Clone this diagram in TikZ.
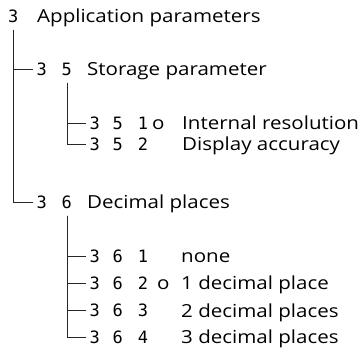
\documentclass[tikz,border=0pt]{standalone}
\usepackage{fontspec}
\setmainfont{Open Sans}[FakeStretch=1.14]
\newfontfamily\segfont{DejaVu Sans Mono}
\tikzset{
  seg/.style={font=\segfont\fontsize{17}{17}\selectfont, inner sep=0pt, anchor=west},
  txt/.style={font=\fontsize{18}{20}\selectfont, inner sep=0pt, anchor=base west},
  tree/.style={line width=0.8pt, black!85, shorten <=7pt, shorten >=3.5pt},
}
\begin{document}
\begin{tikzpicture}[x=1pt, y=-1pt]
    \useasboundingbox (0,0) rectangle (362,350);

    % Parametr 3
    \node[seg] (c3) at (8,16) {3};
    \node[txt] (t3) at (37,23) {Application parameters};

    % Grupa 3 5
    \node[seg] (c35) at (36.5,69) {3\hspace{14.8pt}5};
    \node[txt] (t35) at (87,76) {Storage parameter};
    \node[seg] (c351) at (89.5,123) {3\hspace{12.8pt}5\hspace{14.8pt}1};
    \node[txt] (o351) at (152,130) {o};
    \node[txt] (t351) at (182,130) {Internal resolution};
    \node[seg] (c352) at (89.5,144) {3\hspace{12.8pt}5\hspace{14.8pt}2};
    \node[txt] (t352) at (182,151) {Display accuracy};

    % Grupa 3 6
    \node[seg] (c36) at (36.5,202) {3\hspace{14.8pt}6};
    \node[txt] (t36) at (87,209) {Decimal places};
    \node[seg] (c361) at (89.5,256) {3\hspace{12.8pt}6\hspace{14.8pt}1};
    \node[txt] (t361) at (181,263) {none};
    \node[seg] (c362) at (89.5,283) {3\hspace{12.8pt}6\hspace{14.8pt}2};
    \node[txt] (o362) at (157,290) {o};
    \node[txt] (t362) at (181,290) {1 decimal place};
    \node[seg] (c363) at (89.5,310) {3\hspace{12.8pt}6\hspace{14.8pt}3};
    \node[txt] (t363) at (181,317) {2 decimal places};
    \node[seg] (c364) at (89.5,337) {3\hspace{12.8pt}6\hspace{14.8pt}4};
    \node[txt] (t364) at (181,344) {3 decimal places};

    % Drzewo
    \draw[tree] (c3.south) |- (c35.west);
    \draw[tree] (c3.south) |- (c36.west);
    \draw[tree] ([xshift=-5.1pt]c35.south east) |- (c351.west);
    \draw[tree] ([xshift=-5.1pt]c35.south east) |- (c352.west);
    \foreach \k in {1,2,3,4}
        \draw[tree] ([xshift=-5.1pt]c36.south east) |- (c36\k.west);
\end{tikzpicture}
\end{document}
